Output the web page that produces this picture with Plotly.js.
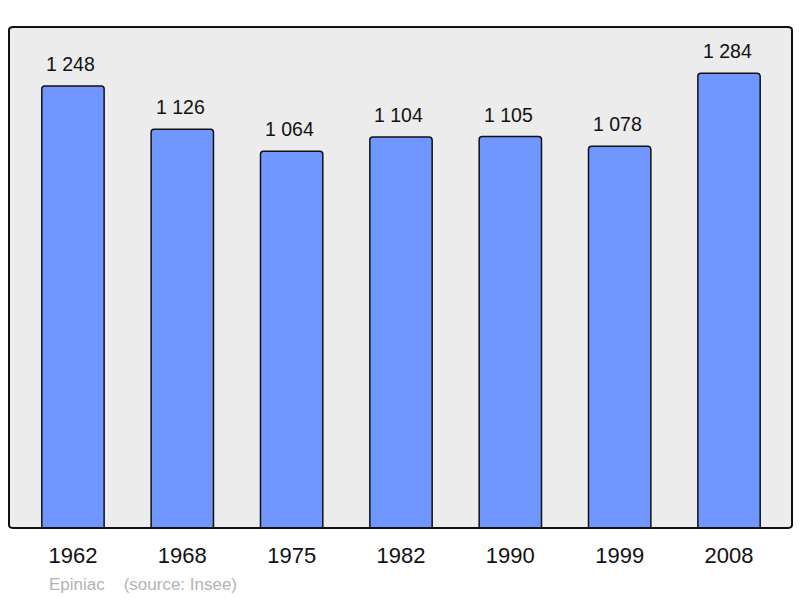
<!DOCTYPE html>
<html><head><meta charset="utf-8">
<script src="https://cdn.plot.ly/plotly-3.0.1.min.js"></script>
<style>html,body{margin:0;padding:0;background:#fff;}#chart{width:800px;height:598px;}</style>
</head><body><div id="chart"></div>
<script>
const years = ["1962","1968","1975","1982","1990","1999","2008"];
const population = [1248,1126,1064,1104,1105,1078,1284];
const valueLabels = ["1 248","1 126","1 064","1 104","1 105","1 078","1 284"];
const sourceText = "Epiniac&nbsp;&nbsp;&nbsp;&nbsp;(source: Insee)";

const trace = {
  type: "bar",
  x: years,
  y: population,
  width: 0.57,
  marker: {color: "#7097ff", line: {color: "#111", width: 1.5}, cornerradius: 3},
  hoverinfo: "skip"
};
const annotations = years.map((yr, i) => ({
  x: i, y: population[i], xref: "x", yref: "y",
  text: valueLabels[i], showarrow: false, yanchor: "bottom", yshift: 9, xshift: -2,
  font: {family: "Liberation Sans, Arial, sans-serif", size: 19.5, color: "#111"}
}));
annotations.push({
  xref: "paper", yref: "paper", x: 0.049, y: -0.112, xanchor: "left", yanchor: "middle",
  text: sourceText, showarrow: false,
  font: {family: "Liberation Sans, Arial, sans-serif", size: 17, color: "#b3b3b3"}
});
const layout = {
  width: 800, height: 598,
  margin: {l: 9, r: 8, t: 27, b: 70},
  paper_bgcolor: "#fff", plot_bgcolor: "#ececec",
  showlegend: false,
  xaxis: {type: "category", range: [-0.585, 6.576], showgrid: false, zeroline: false, showline: false,
    ticks: "", ticklabelstandoff: 12,
    tickfont: {family: "Liberation Sans, Arial, sans-serif", size: 22, color: "#111"}},
  yaxis: {range: [0, 1414.5], showgrid: false, zeroline: false, showline: false, showticklabels: false, ticks: ""},
  annotations: annotations,
  shapes: [{type: "path", xref: "paper", yref: "paper",
    path: "M 0.006,0 L 0.994,0 Q 1,0 1,0.006 L 1,0.994 Q 1,1 0.994,1 L 0.006,1 Q 0,1 0,0.994 L 0,0.006 Q 0,0 0.006,0 Z",
    line: {color: "#111", width: 2}, layer: "above"}]
};
Plotly.newPlot("chart", [trace], layout, {staticPlot: true});
</script></body></html>
